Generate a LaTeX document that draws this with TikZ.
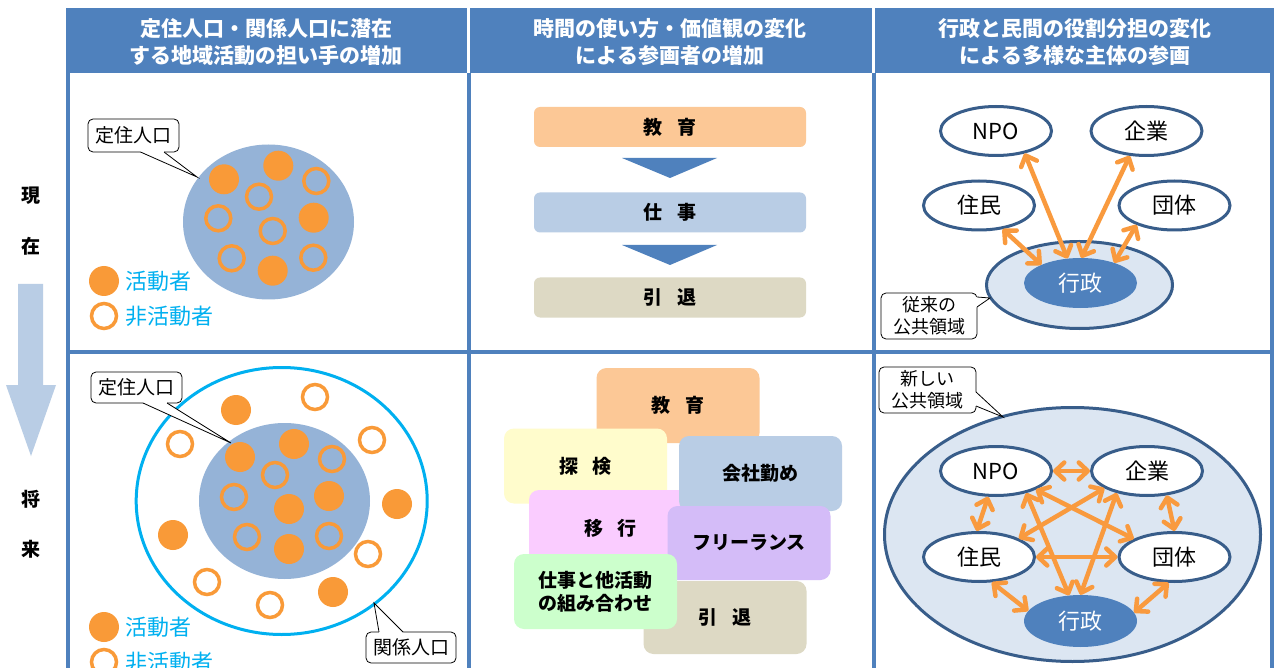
\documentclass[tikz,border=0pt]{standalone}
\usepackage{fontspec}
\setmainfont{Noto Sans CJK JP}
\usetikzlibrary{arrows.meta,shapes.geometric}
\definecolor{hdr}{HTML}{4F81BD}
\definecolor{circbg}{HTML}{95B3D7}
\definecolor{dotc}{HTML}{F99A38}
\definecolor{arrc}{HTML}{F99A3E}
\definecolor{cyanc}{HTML}{00B0F0}
\definecolor{lightarr}{HTML}{B9CDE5}
\definecolor{edgec}{HTML}{385D8A}
\definecolor{regionc}{HTML}{DCE6F2}
\definecolor{peachc}{HTML}{FCC896}
\definecolor{bluebc}{HTML}{B9CDE5}
\definecolor{tanc}{HTML}{DDD9C4}
\definecolor{yelc}{HTML}{FFFCCC}
\definecolor{pinkc}{HTML}{FACCFF}
\definecolor{lavc}{HTML}{D4BCF8}
\definecolor{mintc}{HTML}{CCFFCC}
\begin{document}
\begin{tikzpicture}[x=1pt,y=-1pt,
  hdrtext/.style={text=white, font=\fontsize{21}{27}\selectfont\bfseries, align=center, inner sep=0},
  sidelabel/.style={font=\fontsize{19}{19}\selectfont\bfseries, inner sep=0},
  fdot/.style={fill=dotc},
  hdot/.style={draw=dotc, line width=3.5pt},
  legend/.style={text=cyanc, font=\fontsize{22}{22}\selectfont, anchor=west, inner sep=0},
  callout/.style={draw=black, line width=0.8pt, fill=white, rounded corners=5pt, inner sep=0, font=\fontsize{19}{19}\selectfont, align=center},
  ptr/.style={draw=black, line width=0.8pt},
  flowbox/.style={rounded corners=6pt, minimum width=272pt, minimum height=40pt, inner sep=0, font=\fontsize{19}{19}\selectfont\bfseries},
  cardbox/.style={rounded corners=10pt, minimum width=163pt, minimum height=75pt, inner sep=0, font=\fontsize{19}{23}\selectfont\bfseries, align=center},
  actor/.style={ellipse, draw=edgec, line width=3pt, fill=white, minimum width=111pt, minimum height=49pt, inner sep=0, font=\fontsize{22}{22}\selectfont},
  link/.style={draw=arrc, line width=4.5pt, {Straight Barb[length=9pt,width=17pt,round]}-{Straight Barb[length=9pt,width=17pt,round]}},
  gridline/.style={draw=hdr, line width=4pt},
]
\useasboundingbox (0,0) rectangle (1274,668);
\fill[white] (0,0) rectangle (1274,668);

% header band
\fill[hdr] (66,8) rectangle (1274,73);
\fill[white] (467,8) rectangle (470,73);
\fill[white] (872,8) rectangle (875,73);
\node[hdrtext] (h1) at (266,42) {定住人口・関係人口に潜在\\する地域活動の担い手の増加};
\node[hdrtext] (h2) at (670,42) {時間の使い方・価値観の変化\\による参画者の増加};
\node[hdrtext] (h3) at (1075,42) {行政と民間の役割分担の変化\\による多様な主体の参画};

% grid
\draw[gridline] (68,73) -- (68,670);
\draw[gridline] (468.5,73) -- (468.5,670);
\draw[gridline] (873.5,73) -- (873.5,670);
\draw[gridline] (1272,73) -- (1272,670);
\draw[gridline] (66,352) -- (1274,352);

% side labels and arrow
\node[sidelabel] (l1) at (31,196) {現};
\node[sidelabel] (l2) at (31,246) {在};
\node[sidelabel] (l3) at (31,499) {将};
\node[sidelabel] (l4) at (31,549) {来};
\fill[lightarr] (18,284) -- (43,284) -- (43,385) -- (56,385) -- (31,456) -- (6,385) -- (18,385) -- cycle;

% ---------- panel 1 top
\fill[circbg] (268.5,222) ellipse [x radius=85.5, y radius=77.5];
\foreach \p in {(224,179.3),(278.3,165.7),(313.7,217.7),(272.7,270.7)}
  \fill[fdot] \p circle [radius=15];
\foreach \p in {(316.3,181),(259,196.7),(218.3,218.3),(272.7,231),(231.7,258.3),(313.3,257.7)}
  \draw[hdot] \p circle [radius=12.5];
\node[callout, minimum width=91pt, minimum height=33pt] (cA) at (133.5,135.5) {定住人口};
\coordinate (tA) at (197,177);
\fill[white] (140.5,152) -- (tA) -- (164,152) -- (164,150) -- (140.5,150) -- cycle;
\draw[ptr] (140.5,152) -- (tA) -- (164,152);
\fill[fdot] (104,281) circle [radius=15];
\node[legend] (lg1) at (125,281) {活動者};
\draw[hdot] (104,316) circle [radius=12.5];
\node[legend] (lg2) at (125,316) {非活動者};

% ---------- panel 1 bottom
\draw[cyanc, line width=3pt] (281.7,501) ellipse [x radius=145.5, y radius=133.5];
\fill[circbg] (284.5,501) ellipse [x radius=85.5, y radius=78];
\foreach \p in {(236,410),(294,444),(240,457),(329,496),(289,509),(289,549),(397,504),(173,535),(333,592)}
  \fill[fdot] \p circle [radius=15];
\foreach \p in {(315,397),(372,440),(180,444),(332,459),(275,475),(234,497),(247,537),(329,536),(368,554),(207,582),(270,605)}
  \draw[hdot] \p circle [radius=12.5];
\node[callout, minimum width=91pt, minimum height=31pt] (cB) at (136.5,387.5) {定住人口};
\coordinate (tB) at (231,443);
\fill[white] (143,403) -- (tB) -- (167,403) -- (167,401) -- (143,401) -- cycle;
\draw[ptr] (143,403) -- (tB) -- (167,403);
\node[callout, minimum width=90pt, minimum height=31pt] (cC) at (411,647.5) {関係人口};
\coordinate (tC) at (374,603);
\fill[white] (379,632) -- (tC) -- (403,632) -- (403,634) -- (379,634) -- cycle;
\draw[ptr] (379,632) -- (tC) -- (403,632);
\fill[fdot] (104,627) circle [radius=15];
\node[legend] (lg3) at (125,627) {活動者};
\draw[hdot] (104,662) circle [radius=12.5];
\node[legend] (lg4) at (125,662) {非活動者};

% ---------- panel 2 top
\node[flowbox, fill=peachc] (f1) at (670,127) {教\hspace{15pt}育};
\node[flowbox, fill=bluebc] (f2) at (670,212.5) {仕\hspace{15pt}事};
\node[flowbox, fill=tanc] (f3) at (670,297.5) {引\hspace{15pt}退};
\fill[hdr] (622,158) -- (717,158) -- (670,178) -- cycle;
\fill[hdr] (622,245) -- (717,245) -- (670,265) -- cycle;

% ---------- panel 2 bottom
\node[cardbox, fill=peachc] (k1) at (678,405.5) {教\hspace{15pt}育};
\node[cardbox, fill=yelc] (k2) at (585.5,466) {探\hspace{15pt}検};
\node[cardbox, fill=pinkc, minimum height=77pt] (k3) at (610.5,528.5) {移\hspace{15pt}行};
\node[cardbox, fill=bluebc] (k4) at (760.5,473.5) {会社勤め};
\node[cardbox, fill=lavc, minimum height=74pt] (k5) at (749,543) {フリーランス};
\node[cardbox, fill=tanc, minimum height=73pt] (k6) at (725,617.5) {引\hspace{15pt}退};
\node[cardbox, fill=mintc] (k7) at (595.5,591.5) {仕事と他活動\\の組み合わせ};

% ---------- panel 3 top
\fill[regionc] (1079.5,285) ellipse [x radius=93, y radius=43.5];
\draw[edgec, line width=3pt] (1079.5,285) ellipse [x radius=93, y radius=43.5];
\node[ellipse, fill=hdr, minimum width=113pt, minimum height=50pt, inner sep=0, text=white, font=\fontsize{22}{22}\selectfont] (gy1) at (1080.5,283) {行政};
\node[actor] (npo1) at (996,131) {NPO};
\node[actor] (kig1) at (1146.5,131) {企業};
\node[actor] (jum1) at (979,205.5) {住民};
\node[actor] (dan1) at (1174.5,205.5) {団体};
\draw[link] (npo1.-38) -- (gy1.118);
\draw[link] (kig1.-124) -- (gy1.88);
\draw[link] (jum1.-45) -- (gy1.155);
\draw[link] (dan1.-153) -- (gy1.31);
\node[callout, minimum width=96pt, minimum height=46pt, font=\fontsize{18}{22}\selectfont] (cD) at (929,316) {従来の\\公共領域};
\coordinate (tD) at (990,298);
\fill[white] (977,297) -- (tD) -- (977,307) -- (975,307) -- (975,297) -- cycle;
\draw[ptr] (977,297) -- (tD) -- (977,307);

% ---------- panel 3 bottom
\fill[regionc] (1072.5,534.5) ellipse [x radius=188, y radius=127];
\draw[edgec, line width=3pt] (1072.5,534.5) ellipse [x radius=188, y radius=127];
\node[ellipse, fill=hdr, minimum width=113pt, minimum height=52pt, inner sep=0, text=white, font=\fontsize{22}{22}\selectfont] (gy2) at (1080.5,621) {行政};
\node[actor] (npo2) at (996,471) {NPO};
\node[actor] (kig2) at (1147,471) {企業};
\node[actor] (jum2) at (979,557) {住民};
\node[actor] (dan2) at (1174.5,557) {団体};
\draw[link] (npo2.0) -- (kig2.180);
\draw[link] (npo2.-107) -- (jum2.95);
\draw[link] (kig2.-51) -- (dan2.90);
\draw[link] (jum2.-63) -- (gy2.169);
\draw[link] (dan2.-103) -- (gy2.9);
\draw[link] (npo2.-25) -- (dan2.156);
\draw[link] (kig2.-158) -- (jum2.25);
\draw[link] (npo2.-36) -- (gy2.114);
\draw[link] (kig2.-144) -- (gy2.90);
\draw[link] (jum2.0) -- (dan2.180);
\node[callout, minimum width=97pt, minimum height=46pt, font=\fontsize{18}{22}\selectfont] (cE) at (927.5,390) {新しい\\公共領域};
\coordinate (tE) at (1003,417);
\fill[white] (976,392) -- (tE) -- (976,406) -- (974,406) -- (974,392) -- cycle;
\draw[ptr] (976,392) -- (tE) -- (976,406);
\end{tikzpicture}
\end{document}
